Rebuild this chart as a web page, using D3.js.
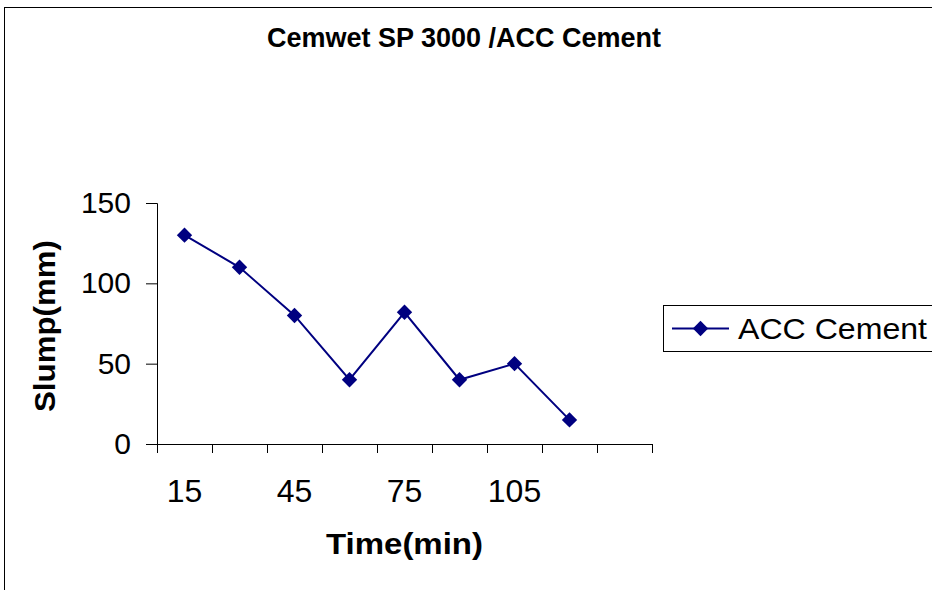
<!DOCTYPE html>
<html>
<head>
<meta charset="utf-8">
<script src="https://cdn.jsdelivr.net/npm/d3@7"></script>
<style>
  body { margin: 0; background: #fff; }
  svg { display: block; font-family: "Liberation Sans", Arial, sans-serif; }
</style>
</head>
<body>
<div id="chart"></div>
<script>
// chart data
const categories = ['15', '30', '45', '60', '75', '90', '105', '120', ''];
const slump = [130, 110, 80, 40, 82, 40, 50, 15];
const yTicks = [0, 50, 100, 150];
const seriesName = 'ACC Cement';

const width = 932, height = 590;
const plot = { left: 157, right: 652, top: 203, bottom: 444 };
const navy = '#000080';
const font = '"Liberation Sans", Arial, sans-serif';

const svg = d3.select('#chart').append('svg')
    .attr('width', width)
    .attr('height', height);

// outer chart frame (runs off the right/bottom edge)
svg.append('rect')
    .attr('x', 4.5).attr('y', 7.5)
    .attr('width', 940).attr('height', 600)
    .attr('fill', 'none')
    .attr('stroke', '#000')
    .attr('stroke-width', 1);

const x = d3.scaleBand()
    .domain(categories.map((c, i) => i))
    .range([plot.left, plot.right]);

const y = d3.scaleLinear()
    .domain([0, 150])
    .range([plot.bottom, plot.top]);

// y axis
const yAxis = svg.append('g')
    .attr('transform', `translate(${plot.left},0)`)
    .call(d3.axisLeft(y).tickValues(yTicks).tickSize(11).tickPadding(15));
yAxis.select('.domain').attr('stroke', '#000');
yAxis.selectAll('.tick line').attr('stroke', '#000');
yAxis.selectAll('text').attr('font-size', 30).attr('fill', '#000')
    .attr('font-family', font);

// x axis line
svg.append('line')
    .attr('x1', plot.left).attr('x2', plot.right)
    .attr('y1', plot.bottom + 0.5).attr('y2', plot.bottom + 0.5)
    .attr('stroke', '#000');

// x tick marks at category boundaries
const edges = categories.map((c, i) => x(i)).concat([x(categories.length - 1) + x.bandwidth()]);
svg.append('g').selectAll('line')
    .data(edges)
    .enter().append('line')
    .attr('x1', d => Math.round(d) + 0.5).attr('x2', d => Math.round(d) + 0.5)
    .attr('y1', plot.bottom).attr('y2', plot.bottom + 9)
    .attr('stroke', '#000');

// x tick labels, every other category
svg.append('g').selectAll('text')
    .data(categories.map((c, i) => ({ c, i })).filter(d => d.i % 2 === 0))
    .enter().append('text')
    .attr('x', d => x(d.i) + x.bandwidth() / 2)
    .attr('y', 502)
    .attr('text-anchor', 'middle')
    .attr('font-size', 32)
    .text(d => d.c);

// axis titles
svg.append('text')
    .attr('x', 326).attr('y', 554)
    .attr('font-size', 30).attr('font-weight', 'bold')
    .attr('textLength', 157).attr('lengthAdjust', 'spacingAndGlyphs')
    .text('Time(min)');

svg.append('text')
    .attr('transform', 'translate(55,412) rotate(-90)')
    .attr('font-size', 30).attr('font-weight', 'bold')
    .attr('textLength', 172).attr('lengthAdjust', 'spacingAndGlyphs')
    .text('Slump(mm)');

// chart title
svg.append('text')
    .attr('x', 464).attr('y', 47)
    .attr('text-anchor', 'middle')
    .attr('font-size', 27).attr('font-weight', 'bold')
    .text('Cemwet SP 3000 /ACC Cement');

// series line
const line = d3.line()
    .x((d, i) => x(i) + x.bandwidth() / 2)
    .y(d => y(d));

svg.append('path')
    .datum(slump)
    .attr('d', line)
    .attr('fill', 'none')
    .attr('stroke', navy)
    .attr('stroke-width', 2);

const diamond = d3.symbol().type(d3.symbolDiamond2).size(150);

svg.append('g').selectAll('path')
    .data(slump)
    .enter().append('path')
    .attr('d', diamond)
    .attr('transform', (d, i) => `translate(${x(i) + x.bandwidth() / 2},${y(d)})`)
    .attr('fill', navy);

// legend
const legend = svg.append('g').attr('transform', 'translate(663,305)');
legend.append('rect')
    .attr('x', 0.5).attr('y', 0.5)
    .attr('width', 290).attr('height', 46)
    .attr('fill', '#fff')
    .attr('stroke', '#000');
legend.append('line')
    .attr('x1', 9).attr('x2', 66)
    .attr('y1', 23.5).attr('y2', 23.5)
    .attr('stroke', navy).attr('stroke-width', 2);
legend.append('path')
    .attr('d', diamond)
    .attr('transform', 'translate(37.5,23.5)')
    .attr('fill', navy);
legend.append('text')
    .attr('x', 75).attr('y', 34)
    .attr('font-size', 30)
    .attr('textLength', 189).attr('lengthAdjust', 'spacingAndGlyphs')
    .text(seriesName);
</script>
</body>
</html>
